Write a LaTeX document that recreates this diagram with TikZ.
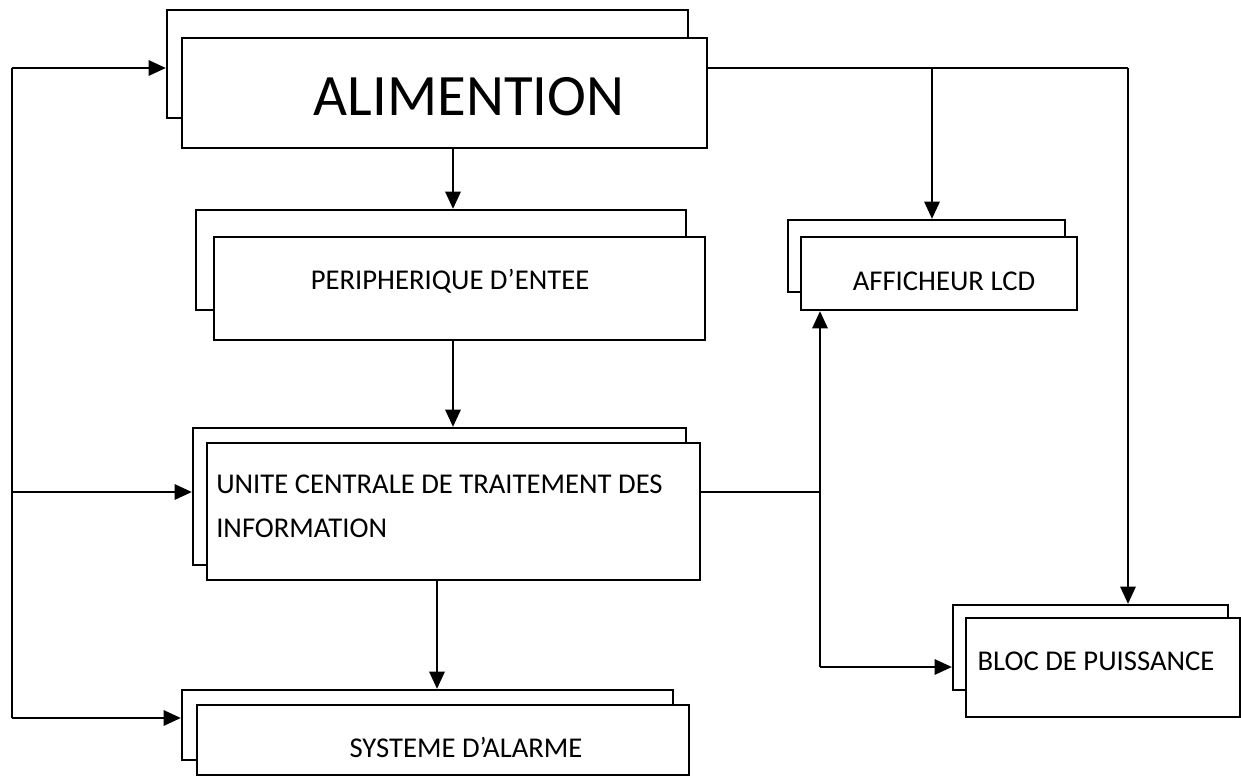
\documentclass[tikz,border=0pt]{standalone}
\usepackage{fontspec}
\setmainfont{Carlito}
\usetikzlibrary{fit,arrows.meta}
\begin{document}
\begin{tikzpicture}[x=0.75pt,y=-0.75pt,
  box/.style={draw=black,fill=white,line width=1.7pt,inner sep=0pt},
  arr/.style={line width=1.7pt,-{Triangle[length=13pt,width=11.5pt]}},
  wire/.style={line width=1.7pt},
  lbl/.style={inner sep=0pt,anchor=base,font=\fontsize{21.5}{26}\selectfont},
  big/.style={inner sep=0pt,anchor=base,font=\fontsize{44}{50}\selectfont}]
\useasboundingbox (0,0) rectangle (1241,778);

% stacked boxes: back sheet first, front sheet over it
\node[box,fit={(167,10) (688,118)}] (alimb) {};
\node[box,fit={(182,38) (707,148)}] (alim) {};
\node[box,fit={(196,210) (686,310)}] (perib) {};
\node[box,fit={(214,237) (705,340)}] (peri) {};
\node[box,fit={(193,428) (686,565)}] (unib) {};
\node[box,fit={(207,443) (700,580)}] (uni) {};
\node[box,fit={(182,690) (673,760)}] (sysb) {};
\node[box,fit={(197,705) (689,775)}] (sys) {};
\node[box,fit={(788,220) (1065,292)}] (lcdb) {};
\node[box,fit={(801,237) (1077,310)}] (lcd) {};
\node[box,fit={(953,605) (1228,690)}] (blocb) {};
\node[box,fit={(966,618) (1240,717)}] (bloc) {};

% labels
\node[big] (talim) at (469,115) {ALIMENTION};
\node[lbl] (tperi) at (450,289) {PERIPHERIQUE D’ENTEE};
\node[lbl,anchor=base west] (tuni1) at (216,493) {UNITE CENTRALE DE TRAITEMENT DES};
\node[lbl,anchor=base west] (tuni2) at (216,537) {INFORMATION};
\node[lbl] (tsys) at (466,757) {SYSTEME D’ALARME};
\node[lbl] (tlcd) at (944,290) {AFFICHEUR LCD};
\node[lbl] (tbloc) at (1096,670) {BLOC DE PUISSANCE};

% junction points of the wiring
\coordinate (ltop) at (12,68);
\coordinate (lmid) at (12,492);
\coordinate (lbot) at (12,718);
\coordinate (rtop) at (1128,68);
\coordinate (jlcd) at (932,68);
\coordinate (jv) at (820,492);
\coordinate (jb) at (820,667);
\coordinate (c1) at (453,0);
\coordinate (c2) at (437,0);

% left feedback bus
\draw[wire] (ltop) -- (lbot);
\draw[arr] (ltop) -- (alimb.west |- ltop);
\draw[arr] (lmid) -- (unib.west |- lmid);
\draw[arr] (lbot) -- (sysb.west |- lbot);

% main chain
\draw[arr] (alim.south -| c1) -- (perib.north -| c1);
\draw[arr] (peri.south -| c1) -- (unib.north -| c1);
\draw[arr] (uni.south -| c2) -- (sysb.north -| c2);

% supply to the right-hand blocks
\draw[wire] (alim.east |- rtop) -- (rtop);
\draw[arr] (jlcd) -- (lcdb.north -| jlcd);
\draw[arr] (rtop) -- (blocb.north -| rtop);

% processing unit outputs
\draw[wire] (uni.east |- jv) -- (jv);
\draw[arr] (jv) -- (lcd.south -| jv);
\draw[wire] (jv) -- (jb);
\draw[arr] (jb) -- (blocb.west |- jb);
\end{tikzpicture}
\end{document}
